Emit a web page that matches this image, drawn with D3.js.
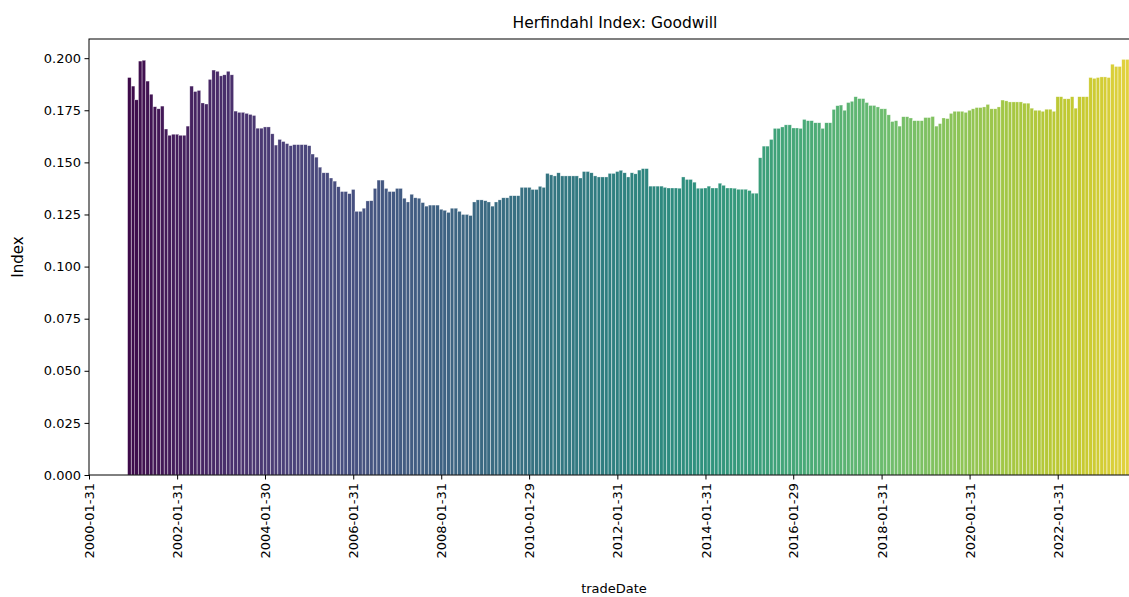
<!DOCTYPE html>
<html>
<head>
<meta charset="utf-8">
<script src="https://cdn.jsdelivr.net/npm/d3@7"></script>
<style>
  body { margin: 0; background: #fff; }
  text { font-family: "DejaVu Sans", sans-serif; }
</style>
</head>
<body>
<svg id="chart" width="1129" height="597"></svg>
<script>
// first bar is December 2000, one bar per month end
var startYear = 2000, startMonth = 11;

var values = [
  0.1907,0.1866,0.180,0.1986,0.199,0.189,0.1827,0.1767,0.1757,0.177,
  0.166,0.163,0.1635,0.1635,0.163,0.163,0.1674,0.1866,0.184,0.1845,
  0.1785,0.178,0.1898,0.1943,0.1937,0.1915,0.192,0.1937,0.192,0.1746,
  0.174,0.174,0.1735,0.173,0.1725,0.1664,0.1664,0.167,0.167,0.1637,
  0.1583,0.161,0.160,0.159,0.158,0.1585,0.1585,0.1585,0.1585,0.158,
  0.154,0.1525,0.1477,0.145,0.145,0.1425,0.141,0.1383,0.136,0.136,
  0.135,0.137,
  0.1265,0.1265,0.128,0.1315,
  0.1316,0.1375,0.1415,0.1415,0.1375,0.136,0.136,0.1375,0.1375,0.1328,
  0.131,0.1347,0.133,0.1328,0.1307,0.129,0.1295,0.1295,0.1295,0.1275,
  0.127,0.126,0.128,0.128,0.1265,0.125,0.125,0.1245,0.131,0.132,
  0.132,0.1316,0.131,0.129,0.131,0.132,0.133,0.133,0.134,0.134,
  0.134,0.138,0.138,0.138,0.137,0.137,0.1385,0.138,0.1447,0.144,
  0.1435,0.145,0.1435,0.1435,0.1435,0.1435,0.1435,0.1425,0.1456,0.1456,
  0.145,0.1435,0.143,0.143,0.143,0.1447,0.1447,0.1456,0.1462,0.145,
  0.143,
  0.145,0.1445,0.1463,0.147,0.147,0.1386,0.1386,0.1386,0.1386,0.138,
  0.1377,0.1377,0.1377,0.1376,0.143,0.1418,0.1418,0.1405,0.1376,0.1376,
  0.1377,0.1386,0.1377,0.1377,0.140,0.139,0.1377,0.1377,0.1376,0.1371,
  0.1371,0.1371,0.1365,0.1352,0.1352,0.1522,0.1578,0.1578,0.161,0.1663,
  0.1663,0.167,0.168,0.168,0.1665,0.1665,0.1663,0.1706,0.170,0.170,
  0.169,0.169,0.1663,0.169,0.169,0.1754,0.1772,0.1775,0.175,0.1787,
  0.1793,0.1815,0.1806,0.1806,0.1787,0.1773,0.1773,0.1766,
  0.1757,0.1757,0.1728,0.1696,0.170,0.1674,0.1719,0.1719,0.1713,0.170,
  0.170,0.170,0.1715,0.1715,0.172,0.1674,0.1686,0.1713,0.171,0.1735,
  0.1745,0.1745,0.1745,0.174,0.175,0.1757,0.1763,0.1763,0.1766,0.1778,
  0.1757,0.1757,0.1766,0.1799,0.1795,0.179,0.179,0.179,0.179,0.1784,
  0.1784,0.176,0.175,0.175,0.1745,0.1755,0.1755,0.1745,0.1815,0.1815,
  0.1805,0.1805,0.1815,0.176,0.1815,0.1815,0.1815,0.1907,0.1903,0.1907,
  0.191,0.191,0.1907,0.1971,0.196,0.196,0.1994,0.1994
];

var tickLabels = ["2000-01-31","2002-01-31","2004-01-30","2006-01-31","2008-01-31",
  "2010-01-29","2012-01-31","2014-01-31","2016-01-29","2018-01-31","2020-01-31","2022-01-31"];
var yTicks = [0,0.025,0.05,0.075,0.1,0.125,0.15,0.175,0.2];

var parse = d3.timeParse("%Y-%m-%d");
var data = values.map(function(v, i){
  // last day of each month
  return {date: new Date(startYear, startMonth + i + 1, 0), value: v};
});

var svg = d3.select("#chart");
var plotL = 89, plotR = 1141, plotT = 39, plotB = 475;

var x = d3.scaleTime()
  .domain([parse("2000-01-31"), d3.timeDay.offset(parse("2000-01-31"), 8727)])
  .range([plotL, plotR]);
var y = d3.scaleLinear().domain([0, 0.2092]).range([plotB, plotT]);

var n = values.length;
// viridis, desaturated like a seaborn barplot
var color = function(i){
  var c = d3.hsl(d3.interpolateViridis((i + 1) / (n + 1)));
  c.s *= 0.75;
  return c.formatHex();
};
var barW = 29 * (x(parse("2000-03-31")) - x(parse("2000-01-31"))) / 60;

svg.append("g").selectAll("rect")
  .data(data).enter()
  .append("rect")
    .attr("x", function(d){ return x(d.date) - barW / 2; })
    .attr("y", function(d){ return y(d.value); })
    .attr("width", barW)
    .attr("height", function(d){ return plotB - y(d.value); })
    .attr("fill", function(d, i){ return color(i); })
    .attr("stroke", "#fff")
    .attr("stroke-opacity", 0.6)
    .attr("stroke-width", 0.5);

// axes frame
svg.append("rect")
  .attr("x", plotL).attr("y", plotT)
  .attr("width", plotR - plotL).attr("height", plotB - plotT)
  .attr("fill", "none").attr("stroke", "#000").attr("stroke-width", 1);

var xAxis = svg.append("g")
  .attr("transform", "translate(0," + plotB + ")")
  .call(d3.axisBottom(x).tickValues(tickLabels.map(parse)).tickSize(4.5)
    .tickFormat(d3.timeFormat("%Y-%m-%d")));
xAxis.select(".domain").remove();
xAxis.selectAll("text")
  .attr("transform", "rotate(-90)")
  .attr("x", -8).attr("y", 0).attr("dy", "0.35em")
  .style("text-anchor", "end")
  .attr("font-size", 13).attr("fill", "#000");

var yAxis = svg.append("g")
  .attr("transform", "translate(" + plotL + ",0)")
  .call(d3.axisLeft(y).tickValues(yTicks).tickSize(4.5).tickFormat(d3.format(".3f")));
yAxis.select(".domain").remove();
yAxis.selectAll("text").attr("font-size", 13).attr("fill", "#000").attr("x", -8);

svg.append("text")
  .attr("x", 615).attr("y", 28)
  .attr("text-anchor", "middle").attr("font-size", 15.5)
  .text("Herfindahl Index: Goodwill");

svg.append("text")
  .attr("x", 614).attr("y", 593)
  .attr("text-anchor", "middle").attr("font-size", 13)
  .text("tradeDate");

svg.append("text")
  .attr("transform", "translate(23,257) rotate(-90)")
  .attr("text-anchor", "middle").attr("font-size", 15)
  .text("Index");
</script>
</body>
</html>
